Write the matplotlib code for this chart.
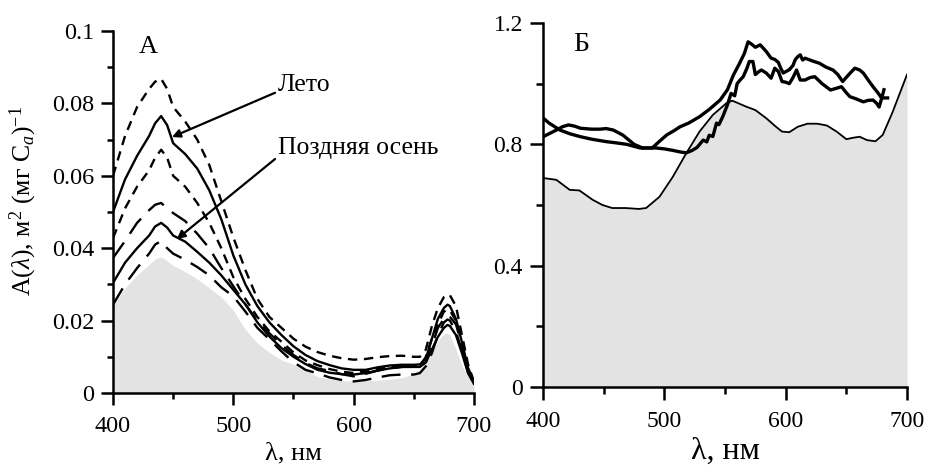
import matplotlib
matplotlib.use("Agg")
import matplotlib.pyplot as plt
from matplotlib.ticker import MultipleLocator, FixedLocator

plt.rcParams['font.family'] = ['Liberation Serif', 'DejaVu Serif']
plt.rcParams['mathtext.fontset'] = 'custom'
plt.rcParams['mathtext.rm'] = 'Liberation Serif'
plt.rcParams['mathtext.it'] = 'Liberation Serif:italic'

# ---------------- Panel A data ----------------
wl_a = [400, 410, 420, 430, 435, 440, 445, 450, 460, 470, 480, 490, 500, 510, 520, 530,
        540, 550, 560, 570, 580, 590, 600, 610, 620, 630, 640, 650, 655, 660, 665, 670,
        675, 678, 680, 685, 690, 695, 700]
a_dot_top = [0.060, 0.071, 0.079, 0.084, 0.086, 0.0868, 0.084, 0.079, 0.075, 0.070, 0.063, 0.053,
             0.043, 0.034, 0.026, 0.021, 0.018, 0.015, 0.0128, 0.0113, 0.0103, 0.0096, 0.0092,
             0.0094, 0.0099, 0.0102, 0.0103, 0.0100, 0.0100, 0.012, 0.0185, 0.0235, 0.0265,
             0.0272, 0.027, 0.024, 0.016, 0.008, 0.003]
a_summer = [0.050, 0.059, 0.0655, 0.071, 0.0745, 0.0765, 0.074, 0.069, 0.066, 0.062, 0.056, 0.048,
            0.038, 0.030, 0.024, 0.0195, 0.016, 0.0129, 0.0105, 0.0088, 0.0077, 0.0068, 0.0064,
            0.0064, 0.0071, 0.0076, 0.0078, 0.0078, 0.0079, 0.0095, 0.015, 0.0205, 0.0235,
            0.0244, 0.024, 0.0205, 0.014, 0.007, 0.003]
a_dot_mid = [0.0428, 0.051, 0.057, 0.0615, 0.065, 0.0672, 0.065, 0.060, 0.057, 0.0525, 0.047, 0.040,
             0.032, 0.026, 0.021, 0.017, 0.0142, 0.0112, 0.0090, 0.0077, 0.0066, 0.0059, 0.0055,
             0.0059, 0.0066, 0.0071, 0.0073, 0.0074, 0.0075, 0.010, 0.015, 0.019, 0.0225,
             0.023, 0.0228, 0.020, 0.014, 0.007, 0.003]
a_dash_up = [0.0373, 0.042, 0.047, 0.0505, 0.052, 0.0525, 0.051, 0.0497, 0.0475, 0.044, 0.040, 0.0345,
             0.0295, 0.0245, 0.020, 0.0165, 0.0133, 0.0105, 0.0083, 0.0068, 0.0061, 0.0052, 0.0046,
             0.0053, 0.0062, 0.0068, 0.0072, 0.0073, 0.0073, 0.0085, 0.013, 0.018, 0.0205,
             0.0215, 0.021, 0.019, 0.013, 0.0065, 0.003]
a_autumn = [0.0304, 0.036, 0.040, 0.0435, 0.046, 0.047, 0.0457, 0.0435, 0.0418, 0.039, 0.036, 0.0325,
            0.0285, 0.0245, 0.0195, 0.0156, 0.0124, 0.0100, 0.0080, 0.0064, 0.0056, 0.0052, 0.0051,
            0.0055, 0.0062, 0.0068, 0.0072, 0.0072, 0.0072, 0.0085, 0.012, 0.0155, 0.018,
            0.0188, 0.0185, 0.016, 0.011, 0.0055, 0.0025]
a_dash_low = [0.0244, 0.030, 0.0345, 0.0385, 0.041, 0.042, 0.040, 0.0385, 0.0368, 0.0348, 0.0325, 0.0292,
              0.0267, 0.0225, 0.018, 0.0148, 0.0115, 0.0085, 0.0064, 0.0054, 0.0043, 0.0036, 0.0032,
              0.0036, 0.0043, 0.0049, 0.0051, 0.0051, 0.0055, 0.0074, 0.011, 0.016, 0.0195,
              0.0203, 0.020, 0.017, 0.0115, 0.006, 0.0025]
a_grey = [0.0243, 0.029, 0.0326, 0.0355, 0.037, 0.0376, 0.0365, 0.0352, 0.0335, 0.0315, 0.029, 0.0265,
          0.0229, 0.0175, 0.0138, 0.0112, 0.0091, 0.0079, 0.0063, 0.0045, 0.0039, 0.0034, 0.0033,
          0.0034, 0.0035, 0.0038, 0.0042, 0.0053, 0.0062, 0.0085, 0.011, 0.0145, 0.0163,
          0.0166, 0.016, 0.012, 0.0075, 0.0045, 0.002]

# ---------------- Panel B data ----------------
wl_b_thin = [400, 411, 422, 430, 441, 449, 457, 468, 479, 485, 496, 507, 518, 529, 540, 551, 556,
             567, 575, 584, 592, 597, 603, 610, 618, 626, 634, 642, 650, 656, 661, 667, 674,
             680, 688, 700]
b_thin = [0.689, 0.683, 0.65, 0.648, 0.617, 0.60, 0.59, 0.59, 0.587, 0.59, 0.627, 0.693, 0.77,
          0.842, 0.897, 0.935, 0.944, 0.925, 0.913, 0.886, 0.858, 0.842, 0.840, 0.858, 0.868,
          0.868, 0.862, 0.842, 0.817, 0.822, 0.825, 0.814, 0.81, 0.831, 0.905, 1.03]

wl_b_1 = [400, 405, 414, 422, 431, 440, 452, 460, 469, 480, 493, 500, 507, 513, 518, 523, 527,
          532, 535, 537, 540, 543, 545, 548, 552, 555, 558, 560, 562, 565, 568, 570, 573, 575,
          578, 580, 584, 588, 591, 594, 597, 600, 603, 606, 609, 612, 616, 620, 624, 630, 637,
          642, 646, 650, 653, 658, 664, 668, 672, 675, 677, 679, 681]
b_curve1 = [0.887, 0.87, 0.847, 0.835, 0.825, 0.817, 0.809, 0.805, 0.80, 0.788, 0.788, 0.785,
            0.78, 0.775, 0.772, 0.78, 0.79, 0.814, 0.808, 0.83, 0.826, 0.87, 0.865, 0.89, 0.93,
            0.968, 0.96, 1.0, 1.01, 1.023, 1.05, 1.073, 1.073, 1.03, 1.04, 1.045, 1.035, 1.018,
            1.051, 1.04, 1.007, 1.005, 1.0, 1.02, 1.045, 1.012, 1.012, 1.02, 1.023, 1.0, 0.979,
            0.985, 0.99, 0.97, 0.957, 0.95, 0.94, 0.945, 0.946, 0.935, 0.923, 0.95, 0.98]

wl_b_2 = [400, 405, 411, 416, 421, 426, 431, 440, 447, 452, 458, 466, 475, 482, 490, 496, 502,
          508, 513, 520, 529, 537, 546, 552, 557, 562, 566, 569, 572, 575, 579, 582, 584, 588,
          591, 594, 596, 598, 603, 606, 608, 610, 612, 614, 616, 622, 628, 633, 639, 643, 647,
          652, 657, 661, 664, 668, 672, 676, 679, 684]
b_curve2 = [0.825, 0.835, 0.847, 0.858, 0.864, 0.86, 0.853, 0.85, 0.85, 0.852, 0.847, 0.83, 0.80,
            0.788, 0.788, 0.81, 0.831, 0.845, 0.858, 0.87, 0.891, 0.915, 0.946, 0.98, 1.029,
            1.067, 1.1, 1.138, 1.13, 1.12, 1.128, 1.115, 1.106, 1.084, 1.08, 1.07, 1.05, 1.035,
            1.046, 1.06, 1.08, 1.089, 1.095, 1.078, 1.084, 1.075, 1.067, 1.055, 1.045, 1.03,
            1.007, 1.03, 1.051, 1.045, 1.035, 1.012, 0.99, 0.97, 0.953, 0.953]

# ---------------- Figure ----------------
W, H = 928, 467
fig = plt.figure(figsize=(W / 100, H / 100), dpi=100)
axA = fig.add_axes([113 / W, 1 - 393 / H, 361 / W, 362 / H])
axB = fig.add_axes([543 / W, 1 - 387 / H, 364 / W, 364 / H])

grey = '#e3e3e3'
short_dash = (0, (4.0, 2.8))
long_dash = (0, (8.0, 4.5))

# Panel A
axA.fill_between(wl_a, 0, a_grey, color=grey, lw=0, zorder=1)
lw = 1.7
axA.plot(wl_a, a_dot_top, color='k', lw=lw, ls=short_dash, zorder=3)
axA.plot(wl_a, a_summer, color='k', lw=lw, ls='-', zorder=3)
axA.plot(wl_a, a_dot_mid, color='k', lw=lw, ls=short_dash, zorder=3)
axA.plot(wl_a, a_dash_up, color='k', lw=lw, ls=long_dash, zorder=3)
axA.plot(wl_a, a_autumn, color='k', lw=lw, ls='-', zorder=3)
axA.plot(wl_a, a_dash_low, color='k', lw=lw, ls=long_dash, zorder=3)

axA.set_xlim(400, 700)
axA.set_ylim(0, 0.1)
axA.yaxis.set_major_locator(FixedLocator([0, 0.02, 0.04, 0.06, 0.08, 0.1]))
axA.set_yticklabels(['0', '0.02', '0.04', '0.06', '0.08', '0.1'])
axA.yaxis.set_minor_locator(MultipleLocator(0.01))
axA.xaxis.set_major_locator(MultipleLocator(100))
axA.xaxis.set_minor_locator(MultipleLocator(50))

axA.annotate('Лето', xy=(449, 0.0707), xytext=(537, 0.0851), fontsize=18.5,
             ha='left', va='center',
             arrowprops=dict(arrowstyle='-|>', color='k', lw=1.6, mutation_scale=12,
                             shrinkA=0, shrinkB=0, relpos=(0, 0.2)))
axA.annotate('Поздняя осень', xy=(453, 0.0425), xytext=(537, 0.0677), fontsize=18.5,
             ha='left', va='center',
             arrowprops=dict(arrowstyle='-|>', color='k', lw=1.6, mutation_scale=12,
                             shrinkA=0, shrinkB=0, relpos=(0, 0.1)))
axA.text(421, 0.0955, 'А', fontsize=19, ha='left', va='center')

axA.set_xlabel('λ, нм', fontsize=19, labelpad=4)
axA.set_ylabel(r'A($\lambda$), м$^2$ (мг C$_{a}$)$^{-1}$', fontsize=18.5)
axA.yaxis.set_label_coords(-0.205, 0.53)

# Panel B
axB.fill_between(wl_b_thin, 0, b_thin, color=grey, lw=0, zorder=1)
axB.plot(wl_b_thin, b_thin, color='k', lw=1.3, zorder=3)
axB.plot(wl_b_1, b_curve1, color='k', lw=2.4, zorder=4)
axB.plot(wl_b_2, b_curve2, color='k', lw=2.4, zorder=4)
axB.set_xlim(400, 700)
axB.set_ylim(0, 1.2)
axB.yaxis.set_major_locator(FixedLocator([0, 0.4, 0.8, 1.2]))
axB.set_yticklabels(['0', '0.4', '0.8', '1.2'])
axB.yaxis.set_minor_locator(MultipleLocator(0.2))
axB.xaxis.set_major_locator(MultipleLocator(100))
axB.xaxis.set_minor_locator(MultipleLocator(50))
axB.text(425, 1.13, 'Б', fontsize=20, ha='left', va='center')
axB.set_xlabel('λ, нм', fontsize=23, labelpad=3)

for ax, fs, ml in ((axA, 17.5, 8.5), (axB, 17, 9.5)):
    for s in ('top', 'right'):
        ax.spines[s].set_visible(False)
    for s in ('left', 'bottom'):
        ax.spines[s].set_linewidth(1.8)
    ax.tick_params(which='major', direction='out', length=ml, width=1.8, labelsize=fs, pad=5)
    ax.tick_params(which='minor', direction='out', length=ml / 2, width=1.8)
    ax.tick_params(axis='x', which='major', pad=8)

fig.savefig('out.png', dpi=100)
